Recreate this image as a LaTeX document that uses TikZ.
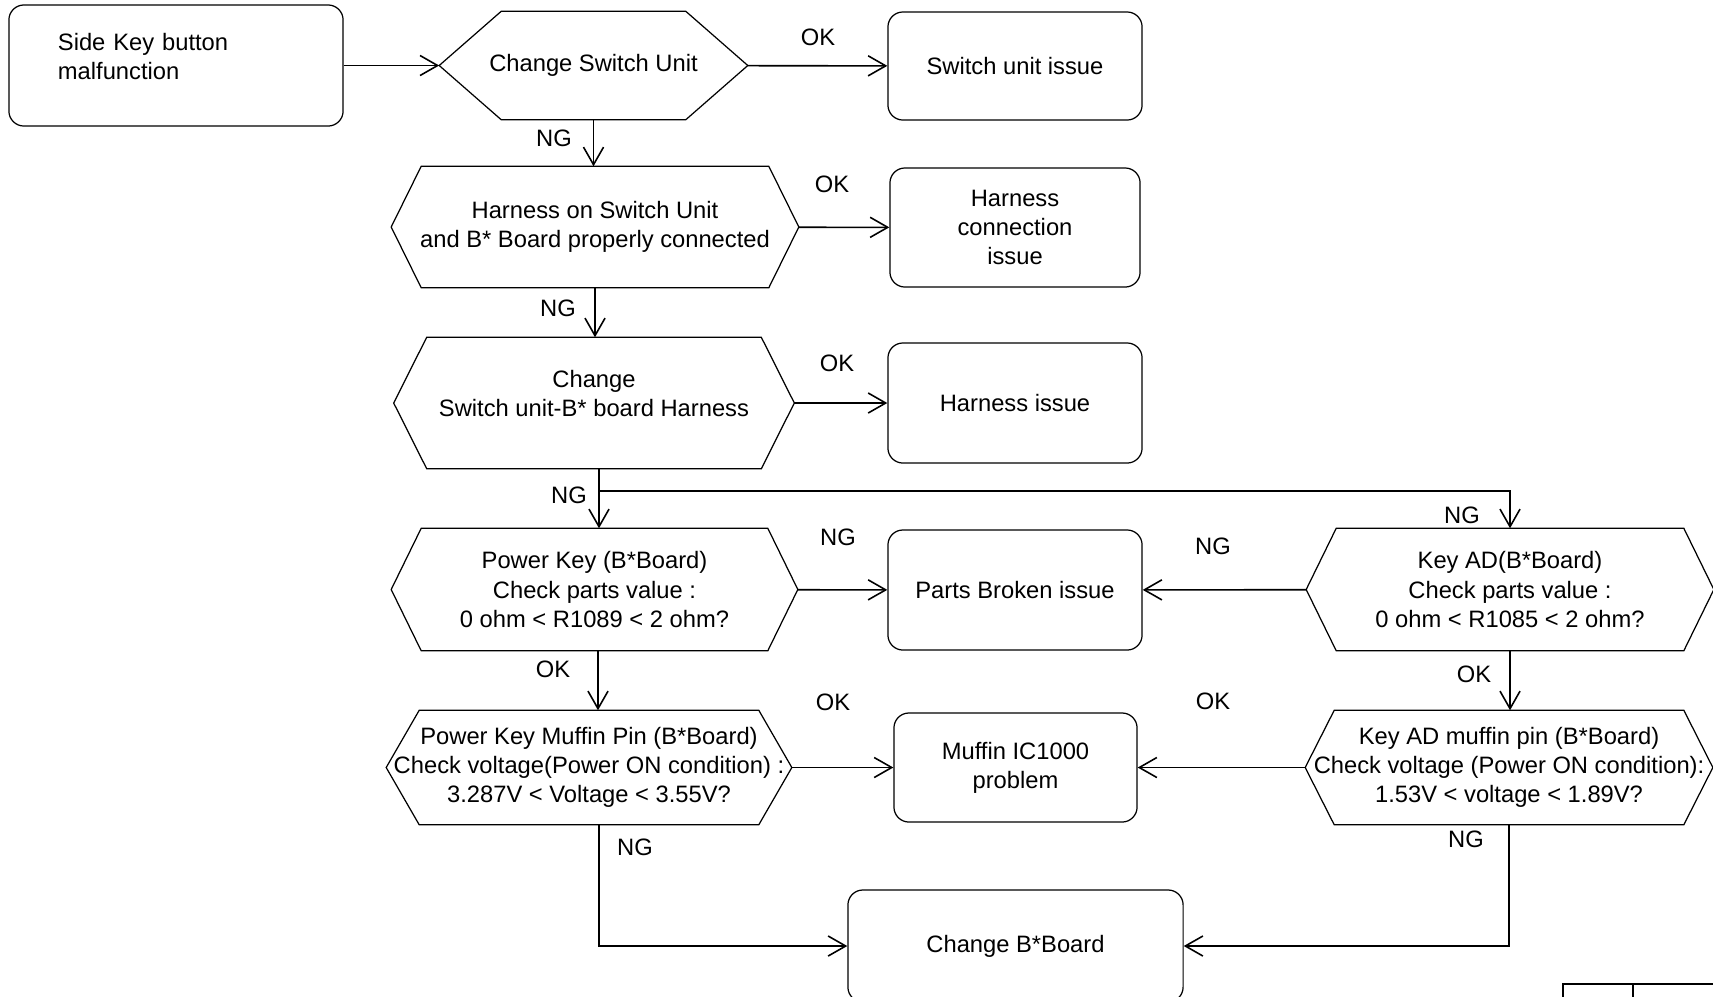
\documentclass[tikz,border=0pt]{standalone}
\usepackage{fontspec}
\setmainfont{Liberation Sans}
\usetikzlibrary{arrows.meta}
% outline of a decision hexagon around a node, #2 = inset of the slanted sides
\newcommand{\hexoutline}[2]{%
  \draw[hexline] (#1.west) -- ([xshift=#2]#1.north west) -- ([xshift=-#2]#1.north east)
    -- (#1.east) -- ([xshift=-#2]#1.south east) -- ([xshift=#2]#1.south west) -- cycle;}

\begin{document}
\begin{tikzpicture}[x=.01cm,y=-.01cm,font=\fontsize{6.75}{8.25}\selectfont,>={Straight Barb[length=5pt,width=5.7pt]},
    endbox/.style={draw,line width=.35pt,rounded corners=.15cm,align=center,inner sep=0pt},
    hexnode/.style={inner sep=0pt,align=center},
    hexline/.style={line width=.35pt},
    link/.style={->,line width=.45pt},
    tag/.style={inner sep=0pt}]
    \useasboundingbox (0,0) rectangle (1713,996);
    % left column
    \node[endbox,minimum width=3.34cm,minimum height=1.21cm,text width=2.36cm,inner xsep=.49cm,align=left] (start) at (176,65.5) {Side Key button\\malfunction\\[-3.15pt]\mbox{}};
    \node[hexnode,minimum width=3.07cm,minimum height=1.07cm] (h1) at (593.5,65.5) {Change Switch Unit};
    \node[hexnode,minimum width=4.06cm,minimum height=1.2cm] (h2) at (595,227) {Harness on Switch Unit\\and B* Board properly connected};
    \node[hexnode,minimum width=3.99cm,minimum height=1.3cm] (h3) at (594,403) {Change\\Switch unit-B* board Harness\\[-2.55pt]\mbox{}};
    \node[hexnode,minimum width=4.05cm,minimum height=1.21cm] (h4) at (594.5,589.5) {Power Key (B*Board)\\Check parts value :\\0 ohm < R1089 < 2 ohm?};
    \node[hexnode,minimum width=4.04cm,minimum height=1.13cm] (h6) at (589,767.5) {Power Key Muffin Pin (B*Board)\\Check voltage(Power ON condition) :\\3.287V < Voltage < 3.55V?};
    % right column
    \node[hexnode,minimum width=4.06cm,minimum height=1.21cm] (h5) at (1510,589.5) {Key AD(B*Board)\\Check parts value :\\0 ohm < R1085 < 2 ohm?};
    \node[hexnode,minimum width=4.06cm,minimum height=1.13cm] (h7) at (1509,767.5) {Key AD muffin pin (B*Board)\\Check voltage (Power ON condition):\\1.53V < voltage < 1.89V?};
    \hexoutline{h1}{.62cm} \hexoutline{h2}{.3cm} \hexoutline{h3}{.33cm}
    \hexoutline{h4}{.3cm} \hexoutline{h6}{.33cm} \hexoutline{h5}{.3cm} \hexoutline{h7}{.29cm}
    % results
    \node[endbox,minimum width=2.54cm,minimum height=1.08cm] (sui) at (1015,66) {Switch unit issue};
    \node[endbox,minimum width=2.5cm,minimum height=1.19cm] (hci) at (1015,227.5) {Harness\\connection\\issue};
    \node[endbox,minimum width=2.54cm,minimum height=1.2cm] (hi) at (1015,403) {Harness issue};
    \node[endbox,minimum width=2.54cm,minimum height=1.2cm] (pbi) at (1015,590) {Parts Broken issue};
    \node[endbox,minimum width=2.43cm,minimum height=1.09cm] (mic) at (1015.5,767.5) {Muffin IC1000\\problem};
    \node[endbox,minimum width=3.35cm,minimum height=1.12cm] (fix) at (1015.5,946) {Change B*Board};
    % trunk points below the left hexagons
    \coordinate (t3) at ([xshift=.05cm]h3.south);
    \coordinate (t4) at ([xshift=.035cm]h4.south);
    \coordinate (t6) at ([xshift=.1cm]h6.south);
    \coordinate (fork) at (599,491);
    % connectors
    \draw[link] (start) -- (h1);
    \draw[link] (h1) -- (sui);
    \draw[link] (h2) -- (hci);
    \draw[link] (h3) -- (hi);
    \draw[link] (h4) -- (pbi);
    \draw[link] (h5) -- (pbi);
    \draw[link] (h6.east) -- (mic.west |- h6.east);
    \draw[link] (h7.west) -- (mic.east |- h7.west);
    \draw[link] (h1.south) -- (h1.south |- h2.north);
    \draw[link] (h2.south) -- (h2.south |- h3.north);
    \draw[link] (t3) -- (t3 |- h4.north);
    \draw[link] (fork) -| (h5.north);
    \draw[link] (t4) -- (t4 |- h6.north);
    \draw[link] (h5.south) -- (h5.south |- h7.north);
    \draw[link] (t6) |- (fix.west);
    \draw[link] (h7.south) |- (fix.east);
    % branch labels
    \node[tag] (ok1) at (818,37) {OK};
    \node[tag] (ng1) at (554,138) {NG};
    \node[tag] (ok2) at (832,184) {OK};
    \node[tag] (ng2) at (558,308) {NG};
    \node[tag] (ok3) at (837,363) {OK};
    \node[tag] (ng3) at (569,495) {NG};
    \node[tag] (ng4) at (1462,515) {NG};
    \node[tag] (ng5) at (838,537) {NG};
    \node[tag] (ng6) at (1213,546) {NG};
    \node[tag] (ok4) at (553,669) {OK};
    \node[tag] (ok5) at (1474,674) {OK};
    \node[tag] (ok6) at (833,702) {OK};
    \node[tag] (ok7) at (1213,701) {OK};
    \node[tag] (ng7) at (635,847) {NG};
    \node[tag] (ng8) at (1466,839) {NG};
    % corner of the title block
    \draw[line width=.6pt] (1563,1000) -- (1563,984) -- (1713,984) (1633,984) -- (1633,1000);
\end{tikzpicture}
\end{document}
